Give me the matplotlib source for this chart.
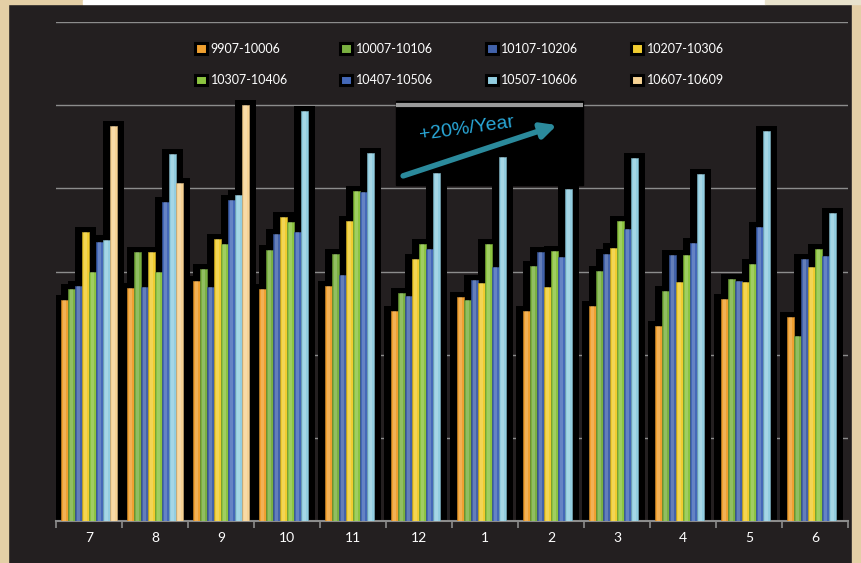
import matplotlib.pyplot as plt
import numpy as np
from matplotlib.patches import Patch, Rectangle
from matplotlib.colors import to_rgb

plt.rcParams["font.family"] = ["Lato", "DejaVu Sans"]

months = ["7", "8", "9", "10", "11", "12", "1", "2", "3", "4", "5", "6"]
periods = ["9907-10006", "10007-10106", "10107-10206", "10207-10306",
           "10307-10406", "10407-10506", "10507-10606", "10607-10609"]

# bar heights in gridline units (no scale shown on the slide)
p9907 = [2.66, 2.80, 2.89, 2.79, 2.82, 2.53, 2.69, 2.52, 2.58, 2.35, 2.67, 2.45]
p10007 = [2.79, 3.23, 3.03, 3.26, 3.21, 2.74, 2.66, 3.07, 3.01, 2.77, 2.91, 2.22]
p10107 = [2.83, 2.81, 2.81, 3.45, 2.96, 2.70, 2.90, 3.23, 3.21, 3.20, 2.89, 3.15]
p10207 = [3.47, 3.24, 3.39, 3.66, 3.61, 3.15, 2.86, 2.81, 3.28, 2.87, 2.87, 3.05]
p10307 = [3.00, 2.99, 3.33, 3.59, 3.97, 3.33, 3.33, 3.25, 3.61, 3.20, 3.09, 3.27]
p10407 = [3.35, 3.84, 3.86, 3.48, 3.96, 3.27, 3.06, 3.18, 3.51, 3.34, 3.53, 3.19]
p10507 = [3.38, 4.41, 3.92, 4.93, 4.42, 4.18, 4.38, 3.99, 4.37, 4.17, 4.69, 3.70]
p10607 = [4.75, 4.06, 5.00, np.nan, np.nan, np.nan, np.nan, np.nan, np.nan,
          np.nan, np.nan, np.nan]

series = [p9907, p10007, p10107, p10207, p10307, p10407, p10507, p10607]
colors = ["#f0a030", "#7ab040", "#4262aa", "#f0cc30",
          "#8cc440", "#4468b8", "#92cde0", "#f6d294"]

bg = "#231f20"
fig = plt.figure(figsize=(8.61, 5.63), dpi=100, facecolor=bg)
ax = fig.add_axes([56 / 861, 42 / 563, 792 / 861, 499 / 563])
ax.set_facecolor(bg)

x = np.arange(len(months))
bw = 0.106


def darker(c, f=0.8):
    r, g, b = to_rgb(c)
    return (r * f, g * f, b * f)


for k, (vals, col) in enumerate(zip(series, colors)):
    v = np.array(vals, dtype=float)
    ok = ~np.isnan(v)
    xs = x[ok] + (k - 3.5) * bw
    # black glow behind each bar
    ax.bar(xs, v[ok] + 0.06, width=bw + 0.22, color="black", zorder=2,
           linewidth=0)
for k, (vals, col) in enumerate(zip(series, colors)):
    v = np.array(vals, dtype=float)
    ok = ~np.isnan(v)
    xs = x[ok] + (k - 3.5) * bw
    ax.bar(xs, v[ok], width=bw, color=col, edgecolor=darker(col),
           linewidth=0.5, zorder=3)
    ax.bar(xs, v[ok], width=bw * 0.35, color="white", alpha=0.18,
           linewidth=0, zorder=3.5)

ax.set_xlim(-0.5, 11.5)
ax.set_ylim(0, 6)
ax.set_yticks(range(7))
ax.yaxis.grid(True, color="#8c8c8c", linewidth=1)
ax.set_axisbelow(True)
ax.tick_params(axis="y", left=False, labelleft=False)

ax.set_xticks(x)
ax.set_xticklabels(months, color="white", fontsize=10)
ax.set_xticks(np.arange(-0.5, 12, 1), minor=True)
ax.tick_params(axis="x", which="major", length=0, pad=8)
ax.tick_params(axis="x", which="minor", length=5, color="#8c8c8c", width=1.2)
for s in ["left", "right", "top"]:
    ax.spines[s].set_visible(False)
ax.spines["bottom"].set_color("#8c8c8c")
ax.spines["bottom"].set_linewidth(1.5)

# annotation box with trend arrow
ax.add_patch(Rectangle((4.65, 4.04), 2.83, 1.01, color="black", zorder=1))
ax.plot([4.65, 7.48], [5.0, 5.0], color="#9a9a9a", lw=3, zorder=1.2,
        solid_capstyle="butt")
ax.annotate("", xy=(7.09, 4.76), xytext=(4.76, 4.15),
            arrowprops=dict(arrowstyle="-|>,head_length=0.9,head_width=0.45",
                            color="#2b8a9c", lw=4, shrinkA=0, shrinkB=0),
            zorder=4)
ax.text(5.72, 4.71, "+20%/Year", color="#2aa8d8", fontsize=14,
        family="Liberation Sans", rotation=8, ha="center", va="center",
        zorder=4)

# legend: two rows of four
handles = [Patch(facecolor=c, edgecolor="black", linewidth=2.2, label=p)
           for c, p in zip(colors, periods)]
order = [0, 4, 1, 5, 2, 6, 3, 7]
fig.legend([handles[i] for i in order], [periods[i] for i in order],
           ncol=4, loc="upper left", bbox_to_anchor=(195 / 861, 1 - 43 / 563),
           frameon=False, fontsize=9, labelcolor="white",
           handlelength=0.95, handleheight=0.95, handletextpad=0.3,
           columnspacing=4.2, labelspacing=1.55, borderpad=0, borderaxespad=0)

# slide background around the chart
fig.add_artist(Rectangle((0, 0), 8 / 861, 1, transform=fig.transFigure,
                         color="#e4cfa6", zorder=-1))
fig.add_artist(Rectangle((852 / 861, 0), 9 / 861, 1, transform=fig.transFigure,
                         color="#e4cfa6", zorder=-1))
fig.add_artist(Rectangle((0, 1 - 4 / 563), 83 / 861, 4 / 563,
                         transform=fig.transFigure, color="#e4cfa6", zorder=-1))
fig.add_artist(Rectangle((83 / 861, 1 - 4 / 563), 682 / 861, 4 / 563,
                         transform=fig.transFigure, color="white", zorder=-1))
fig.add_artist(Rectangle((765 / 861, 1 - 4 / 563), 96 / 861, 4 / 563,
                         transform=fig.transFigure, color="#e8e2cc", zorder=-1))

fig.savefig("out.png", dpi=100, facecolor=bg)
